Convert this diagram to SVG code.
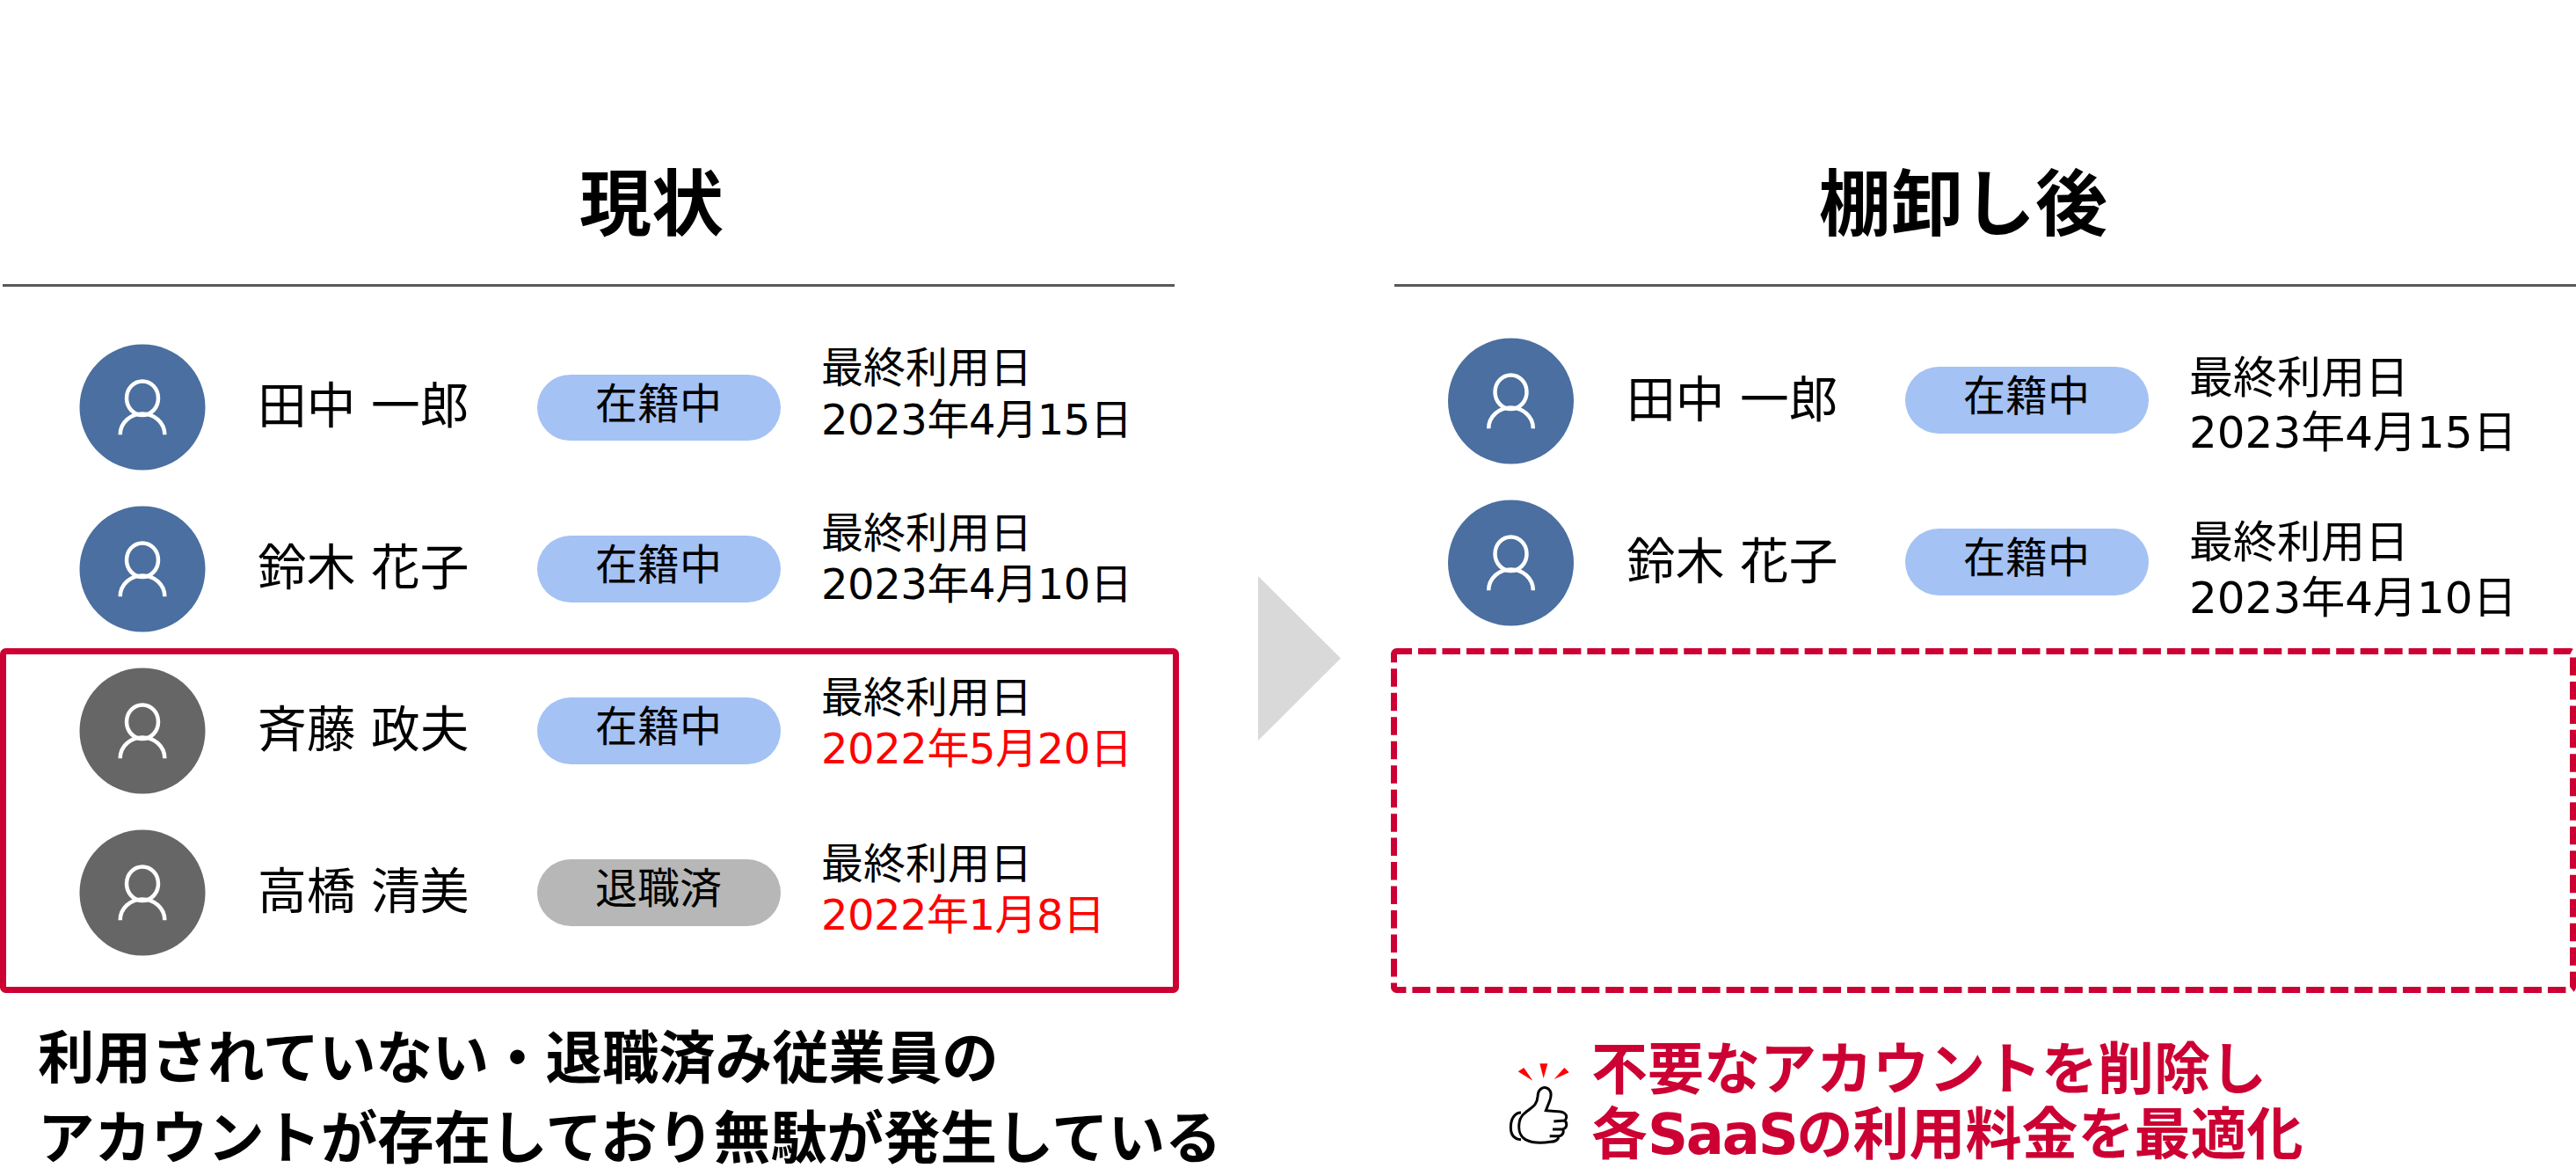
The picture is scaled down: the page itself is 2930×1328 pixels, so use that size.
<svg xmlns="http://www.w3.org/2000/svg" width="2930" height="1328" viewBox="0 0 2930 1328">
<style>
text{font-family:"DejaVu Sans","Noto Sans CJK JP",sans-serif;fill:#000}
.t{font-size:82px;font-weight:700;text-anchor:middle}
.n{font-size:55.700px}
.d{font-size:48px}
.e{font-size:50px}
.p{font-size:48px;text-anchor:middle}
.b{font-size:64.400px;font-weight:700}
.c{font-size:64px;font-weight:700;fill:#cc0033}
.r{fill:#ff0000}
.act{fill:#a4c2f4}
.ret{fill:#b7b7b7}
.blue{fill:#4a6fa0}
.gray{fill:#666}
.ic{fill:none;stroke:#fff;stroke-width:4.500}
.rule{fill:none;stroke:#595959;stroke-width:3}
</style>
<defs>
<g id="person">
<ellipse class="ic" cx="0" cy="-10.300" rx="18" ry="19.300"/>
<path class="ic" d="M-25.300,31.300C-25.300,17-13,7.500,0,7.500S25.300,17,25.300,31.300"/>
</g>
</defs>
<rect width="2930" height="1328" fill="#fff"/>
<g id="connectors">
<path class="rule" d="M3,324.500H1336"/>
<path class="rule" d="M1586,324.500H2930"/>
<polygon points="1431,655 1525,748.500 1431,842" fill="#d9d9d9"/>
</g>
<g id="title-left"><text class="t" x="741" y="261">現状</text></g>
<g id="title-right"><text class="t" x="2233" y="261">棚卸し後</text></g>
<g id="left-1">
<circle class="blue" cx="162" cy="463" r="71.500"/><use href="#person" x="162" y="463"/>
<text class="n" x="293" y="481">田中 一郎</text>
<rect class="act" x="611" y="426" width="277" height="75" rx="37.500"/>
<text class="p" x="749" y="476">在籍中</text>
<text class="d" x="934" y="435">最終利用日</text>
<text class="d" x="934" y="494" textLength="354">2023年4月15日</text>
</g>
<g id="left-2">
<circle class="blue" cx="162" cy="647" r="71.500"/><use href="#person" x="162" y="647"/>
<text class="n" x="293" y="665">鈴木 花子</text>
<rect class="act" x="611" y="609" width="277" height="76" rx="38"/>
<text class="p" x="749" y="659">在籍中</text>
<text class="d" x="934" y="623">最終利用日</text>
<text class="d" x="934" y="681" textLength="354">2023年4月10日</text>
</g>
<g id="left-3">
<circle class="gray" cx="162" cy="831" r="71.500"/><use href="#person" x="162" y="831"/>
<text class="n" x="293" y="849">斉藤 政夫</text>
<rect class="act" x="611" y="793" width="277" height="76" rx="38"/>
<text class="p" x="749" y="843">在籍中</text>
<text class="d" x="934" y="810">最終利用日</text>
<text class="d r" x="934" y="868" textLength="354">2022年5月20日</text>
</g>
<g id="left-4">
<circle class="gray" cx="162" cy="1015" r="71.500"/><use href="#person" x="162" y="1015"/>
<text class="n" x="293" y="1033">高橋 清美</text>
<rect class="ret" x="611" y="977" width="277" height="76" rx="38"/>
<text class="p" x="749" y="1027">退職済</text>
<text class="d" x="934" y="999">最終利用日</text>
<text class="d r" x="934" y="1057" textLength="323">2022年1月8日</text>
</g>
<g id="right-1">
<circle class="blue" cx="1718.500" cy="456" r="71.500"/><use href="#person" x="1718.500" y="456"/>
<text class="n" x="1850" y="474">田中 一郎</text>
<rect class="act" x="2167" y="417" width="277" height="76" rx="38"/>
<text class="p" x="2305" y="467">在籍中</text>
<text class="e" x="2490" y="447">最終利用日</text>
<text class="e" x="2490" y="509">2023年4月15日</text>
</g>
<g id="right-2">
<circle class="blue" cx="1718.500" cy="640" r="71.500"/><use href="#person" x="1718.500" y="640"/>
<text class="n" x="1850" y="658">鈴木 花子</text>
<rect class="act" x="2167" y="601" width="277" height="76" rx="38"/>
<text class="p" x="2305" y="651">在籍中</text>
<text class="e" x="2490" y="634">最終利用日</text>
<text class="e" x="2490" y="697">2023年4月10日</text>
</g>
<g id="box-removed"><rect x="3.500" y="740.500" width="1334" height="385" rx="3" fill="none" stroke="#cc0033" stroke-width="7"/></g>
<g id="box-deleted"><rect x="1585.500" y="740.500" width="1341" height="385" rx="3" fill="none" stroke="#cc0033" stroke-width="7" stroke-dasharray="20.500 6.980" stroke-dashoffset="3"/></g>
<g id="note-left">
<text class="b" x="43" y="1226">利用されていない・退職済み従業員の</text>
<text class="b" x="43" y="1317">アカウントが存在しており無駄が発生している</text>
</g>
<g id="note-right">
<g transform="translate(1680,1150) scale(.3333)">
<path d="M140,205L160,192L190,236ZM214,178H241L227,228ZM263,231L298,192L314,208Z" fill="#f00"/>
<path d="M150,345C130,345 115,365 115,395C115,420 125,435 150,437M165,345C190,325 205,320 207,290C208,265 225,255 240,262C255,270 255,285 248,305L235,338L285,342C305,345 310,360 300,372C310,385 305,398 293,402C298,415 290,425 278,425C280,438 265,445 250,445C220,450 190,450 165,437C145,425 140,400 145,375C148,360 155,352 165,345ZM262,375L300,372M258,402L293,402M248,425L278,425" fill="#fff" stroke="#000" stroke-width="9"/>
</g>
<text class="c" x="1810" y="1238">不要なアカウントを削除し</text>
<text class="c" x="1810" y="1312">各<tspan letter-spacing="-2.250">SaaS</tspan>の利用料金を最適化</text>
</g>
</svg>
